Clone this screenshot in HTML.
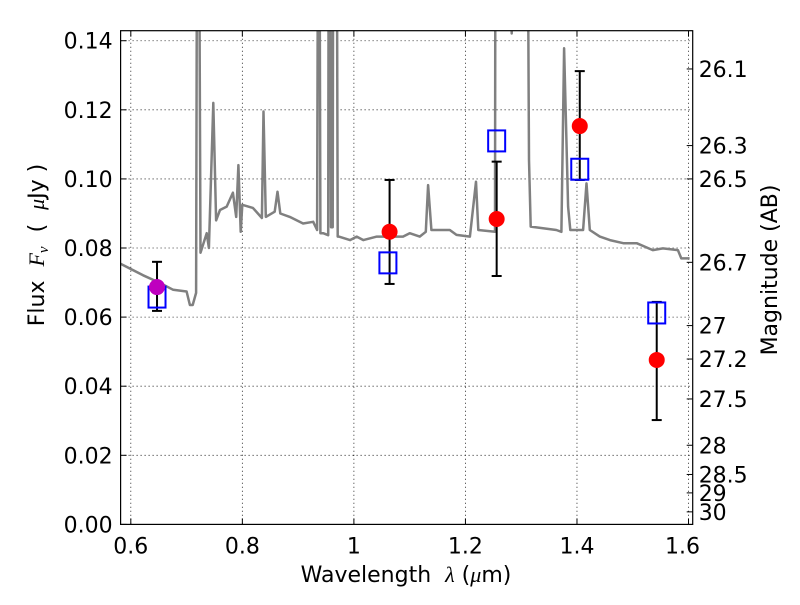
<!DOCTYPE html>
<html><head><meta charset="utf-8"><style>
body{margin:0;background:#fff}
svg text{font-family:"DejaVu Sans","Liberation Sans",sans-serif;fill:#000}
.pre{white-space:pre}
</style></head><body>
<svg id="c" width="800" height="600" xmlns="http://www.w3.org/2000/svg"></svg>
<script>
const specX=[0.581,0.622,0.652,0.676,0.700,0.706,0.711,0.717,0.719,0.722,0.725,0.736,0.740,0.748,0.753,0.760,0.772,0.783,0.789,0.793,0.797,0.800,0.819,0.835,0.838,0.842,0.858,0.863,0.868,0.885,0.909,0.927,0.934,0.936,0.938,0.940,0.945,0.954,0.955,0.957,0.959,0.962,0.963,0.964,0.966,0.969,0.971,0.973,0.993,1.005,1.017,1.041,1.088,1.100,1.118,1.129,1.133,1.139,1.172,1.184,1.208,1.219,1.223,1.253,1.254,1.280,1.283,1.286,1.311,1.314,1.317,1.339,1.363,1.372,1.377,1.384,1.388,1.411,1.417,1.423,1.441,1.459,1.483,1.507,1.536,1.554,1.581,1.587,1.602];
const specY=[0.0755,0.0721,0.0699,0.0679,0.0674,0.0635,0.0635,0.067,0.20,0.20,0.0786,0.0843,0.080,0.122,0.088,0.091,0.092,0.096,0.089,0.104,0.0847,0.0925,0.0916,0.0887,0.1195,0.089,0.0905,0.0963,0.090,0.089,0.0871,0.0876,0.0852,0.20,0.20,0.0843,0.0843,0.0837,0.20,0.20,0.086,0.086,0.20,0.20,0.20,0.20,0.0833,0.0833,0.0823,0.0833,0.0823,0.0833,0.0833,0.0843,0.0833,0.0847,0.0982,0.0852,0.0852,0.0838,0.0833,0.0992,0.0852,0.0847,0.20,0.20,0.1421,0.20,0.20,0.1055,0.0862,0.0857,0.0852,0.0847,0.1378,0.092,0.0852,0.0852,0.0987,0.0852,0.0833,0.0823,0.0814,0.0814,0.0794,0.0799,0.0794,0.077,0.077];
const modelX=[0.647,1.061,1.256,1.405,1.543];
const modelY=[0.0658,0.0757,0.111,0.1028,0.0612];
const obsX=[0.647,1.064,1.256,1.405,1.543];
const obsY=[0.0687,0.0847,0.0884,0.1153,0.0476];
const obsHi=[0.076,0.0997,0.1050,0.1312,0.0644];
const obsLo=[0.0618,0.0696,0.0719,0.0997,0.0302];
const obsColor=["#bf00bf","red","red","red","red"];
const xTicks=[0.6,0.8,1.0,1.2,1.4,1.6];
const xTickLabels=["0.6","0.8","1","1.2","1.4","1.6"];
const yTicks=[0,0.02,0.04,0.06,0.08,0.10,0.12,0.14];
const magTicks=[26.1,26.3,26.4,26.7,27,27.2,27.5,28,28.5,29,30];
const magLabels=["26.1","26.3","26.5","26.7","27","27.2","27.5","28","28.5","29","30"];

const L=120.6,R=692.7,T=30.7,B=524.4;
const xmin=0.5817,xmax=1.6075,ymin=0,ymax=0.1429;
const X=v=>L+(v-xmin)/(xmax-xmin)*(R-L);
const Y=v=>B-(v-ymin)/(ymax-ymin)*(B-T);
const svg=document.getElementById('c');const NS='http://www.w3.org/2000/svg';
function mk(tag,at,parent){const e=document.createElementNS(NS,tag);for(const k in at)e.setAttribute(k,at[k]);(parent||svg).appendChild(e);return e;}
const defs=mk('defs',{});const cp=mk('clipPath',{id:'clip'},defs);mk('rect',{x:L,y:T,width:R-L,height:B-T},cp);

xTicks.forEach(t=>{const g=mk('line',{x1:X(t),x2:X(t),y1:T,y2:B,stroke:'#000','stroke-width':0.8,'stroke-dasharray':'1,3'});

});
yTicks.forEach(t=>{const g=mk('line',{x1:L,x2:R,y1:Y(t),y2:Y(t),stroke:'#000','stroke-width':0.8,'stroke-dasharray':'1,3'});

});

let d='';specX.forEach((x,i)=>{d+=(i?'L':'M')+X(x).toFixed(1)+','+Y(specY[i]).toFixed(1);});
const sp=mk('path',{d:d,fill:'none',stroke:'#808080','stroke-width':2.5,'clip-path':'url(#clip)','stroke-linejoin':'round'});



obsX.forEach((x,i)=>{const g=mk('g',{stroke:'#000','stroke-width':2});


mk('line',{x1:X(x),x2:X(x),y1:Y(obsHi[i]),y2:Y(obsLo[i])},g);
mk('line',{x1:X(x)-5,x2:X(x)+5,y1:Y(obsHi[i]),y2:Y(obsHi[i])},g);
mk('line',{x1:X(x)-5,x2:X(x)+5,y1:Y(obsLo[i]),y2:Y(obsLo[i])},g);});
modelX.forEach((x,i)=>{const r=mk('rect',{x:X(x)-8.5,y:Y(modelY[i])-10.5,width:17,height:21,fill:'none',stroke:'#0000ff','stroke-width':2});

});
obsX.forEach((x,i)=>{const c=mk('circle',{cx:X(x),cy:Y(obsY[i]),r:8,fill:obsColor[i]});

});

const fr=mk('rect',{x:L,y:T,width:R-L,height:B-T,fill:'none',stroke:'#000','stroke-width':1.2});



xTicks.forEach((t,i)=>{mk('line',{x1:X(t),x2:X(t),y1:B,y2:B-6,stroke:'#000'});mk('line',{x1:X(t),x2:X(t),y1:T,y2:T+6,stroke:'#000'});
const tx=mk('text',{x:X(t)-(i==5?6:0),y:B+29,'font-size':22,'text-anchor':'middle'});tx.textContent=xTickLabels[i];

});
yTicks.forEach(t=>{mk('line',{x1:L,x2:L+6,y1:Y(t),y2:Y(t),stroke:'#000'});
const tx=mk('text',{x:L-8,y:Y(t)+8,'font-size':22,'text-anchor':'end'});tx.textContent=t.toFixed(2);

});
magTicks.forEach((m,i)=>{const f=Math.pow(10,(23.9-m)/2.5);const y=Y(f);
mk('line',{x1:R,x2:R-6,y1:y,y2:y,stroke:'#000'});
const tx=mk('text',{x:R+6,y:y+8,'font-size':22});tx.textContent=magLabels[i];

});

let t=mk('text',{x:406,y:582,'font-size':22,'text-anchor':'middle','class':'pre'});t.innerHTML='Wavelength  <tspan font-style="italic" font-family="Liberation Serif">λ</tspan> (<tspan font-style="italic" font-family="Liberation Serif">μ</tspan>m)';


t=mk('text',{x:0,y:0,'font-size':22,'text-anchor':'middle','class':'pre',transform:'translate(44,245) rotate(-90)'});t.innerHTML='Flux  <tspan font-style="italic" font-family="Liberation Serif">F</tspan><tspan font-style="italic" font-family="Liberation Serif" font-size="15" dy="4">ν</tspan><tspan dy="-4">  (  </tspan><tspan font-style="italic" font-family="Liberation Serif">μ</tspan>Jy )';


t=mk('text',{x:0,y:0,'font-size':22,'text-anchor':'middle',transform:'translate(777,270) rotate(-90)'});t.textContent='Magnitude (AB)';


</script>
</body></html>
